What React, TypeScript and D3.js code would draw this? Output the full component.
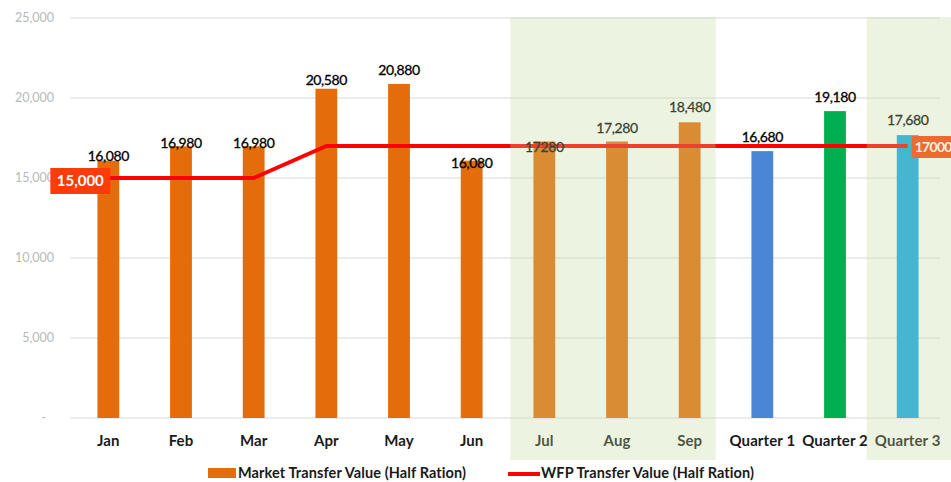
import React from 'react';
import * as d3 from 'd3';

const categories = ['Jan', 'Feb', 'Mar', 'Apr', 'May', 'Jun', 'Jul', 'Aug', 'Sep', 'Quarter 1', 'Quarter 2', 'Quarter 3'];
const marketValues = [16080, 16980, 16980, 20580, 20880, 16080, 17280, 17280, 18480, 16680, 19180, 17680];
const marketLabels = ['16,080', '16,980', '16,980', '20,580', '20,880', '16,080', '17280', '17,280', '18,480', '16,680', '19,180', '17,680'];
const wfpValues = [15000, 15000, 15000, 17000, 17000, 17000, 17000, 17000, 17000, 17000, 17000, 17000];
const yTicks = [0, 5000, 10000, 15000, 20000, 25000];

// label placement in the original was nudged by hand
const labelNudge = [-5, -3, -3, -9, -14, 2, 5, -14, -15, -14, -14, -15];

const barColor = (i: number) => {
  if (i < 9) return '#E46C0A';
  if (i === 9) return '#4A86D4';
  if (i === 10) return '#00B050';
  return '#0FA8E6';
};

const W = 951;
const H = 482;

export default function App() {
  const x = d3.scaleBand<string>().domain(categories).range([72, 944]).paddingInner(0.7).paddingOuter(0.35);
  const y = d3.scaleLinear().domain([0, 25000]).range([418, 18]);
  const cx = (c: string) => (x(c) as number) + x.bandwidth() / 2;

  const line = d3
    .line<number>()
    .x((_, i) => cx(categories[i]))
    .y((d) => y(d));

  const shadeA = [cx('Jul') - 34, cx('Sep') + 26];
  const shadeB = [cx('Quarter 3') - 41, W];

  const fmt = d3.format(',');
  const font = 'Lato, "Open Sans", sans-serif';

  const first = wfpValues[0];
  const last = wfpValues[wfpValues.length - 1];

  return (
    <svg width={W} height={H} style={{ position: 'absolute', left: 0, top: 0, background: '#fff' }} fontFamily={font}>
      {/* grid */}
      {yTicks.map((t) => (
        <g key={t}>
          <line x1={70} x2={940} y1={y(t)} y2={y(t)} stroke="#D9D9D9" strokeWidth={1.2} />
          <text x={t === 0 ? 46 : 54} y={y(t) + 4} textAnchor="end" fontSize={12.5} fill="#B8B8B8">
            {t === 0 ? '-' : fmt(t)}
          </text>
        </g>
      ))}

      {/* bars */}
      {marketValues.map((v, i) => (
        <rect
          key={categories[i]}
          x={x(categories[i])}
          y={y(v)}
          width={x.bandwidth()}
          height={y(0) - y(v)}
          fill={barColor(i)}
        />
      ))}

      {/* WFP line */}
      <path d={line(wfpValues) || ''} fill="none" stroke="#FF0000" strokeWidth={4} strokeLinejoin="round" />

      {/* bar labels */}
      {marketValues.map((v, i) => (
        <text
          key={'l' + i}
          x={cx(categories[i])}
          y={y(v) + labelNudge[i] + 5}
          textAnchor="middle"
          fontSize={14}
          fill="#000"
          stroke="#000"
          strokeWidth={0.3}
          letterSpacing={-0.4}
        >
          {marketLabels[i]}
        </text>
      ))}

      {/* line end labels */}
      <rect x={cx('Jan') - 58} y={y(first) - 10} width={60} height={26} fill="#FF3B0A" />
      <text x={cx('Jan') - 28} y={y(first) + 8} textAnchor="middle" fontSize={15} fontWeight="bold" fill="#fff">
        {fmt(first)}
      </text>
      <rect x={cx('Quarter 3') + 4} y={y(last) - 10} width={60} height={22} fill="#FF3B0A" />
      <text x={cx('Quarter 3') + 7} y={y(last) + 6} textAnchor="start" fontSize={14} fontWeight="bold" fill="#fff" letterSpacing={-0.7}>
        {String(last)}
      </text>

      {/* x labels */}
      {categories.map((c) => (
        <text key={'x' + c} x={cx(c)} y={446} textAnchor="middle" fontSize={15} fontWeight="bold" fill="#1a1a1a" letterSpacing={0.1}>
          {c}
        </text>
      ))}

      {/* shaded overlays */}
      <rect x={shadeA[0]} y={17} width={shadeA[1] - shadeA[0]} height={443} fill="#C4D79B" opacity={0.3} />
      <rect x={shadeB[0]} y={17} width={shadeB[1] - shadeB[0]} height={443} fill="#C4D79B" opacity={0.3} />

      {/* legend */}
      <rect x={208} y={468} width={28} height={10} fill="#E46C0A" />
      <text x={238} y={478} fontSize={14.5} fontWeight="bold" fill="#1a1a1a" letterSpacing={0.1}>
        Market Transfer Value (Half Ration)
      </text>
      <line x1={508} x2={540} y1={474} y2={474} stroke="#FF0000" strokeWidth={4} />
      <text x={541} y={478} fontSize={14.5} fontWeight="bold" fill="#1a1a1a" letterSpacing={0.1}>
        WFP Transfer Value (Half Ration)
      </text>
    </svg>
  );
}
